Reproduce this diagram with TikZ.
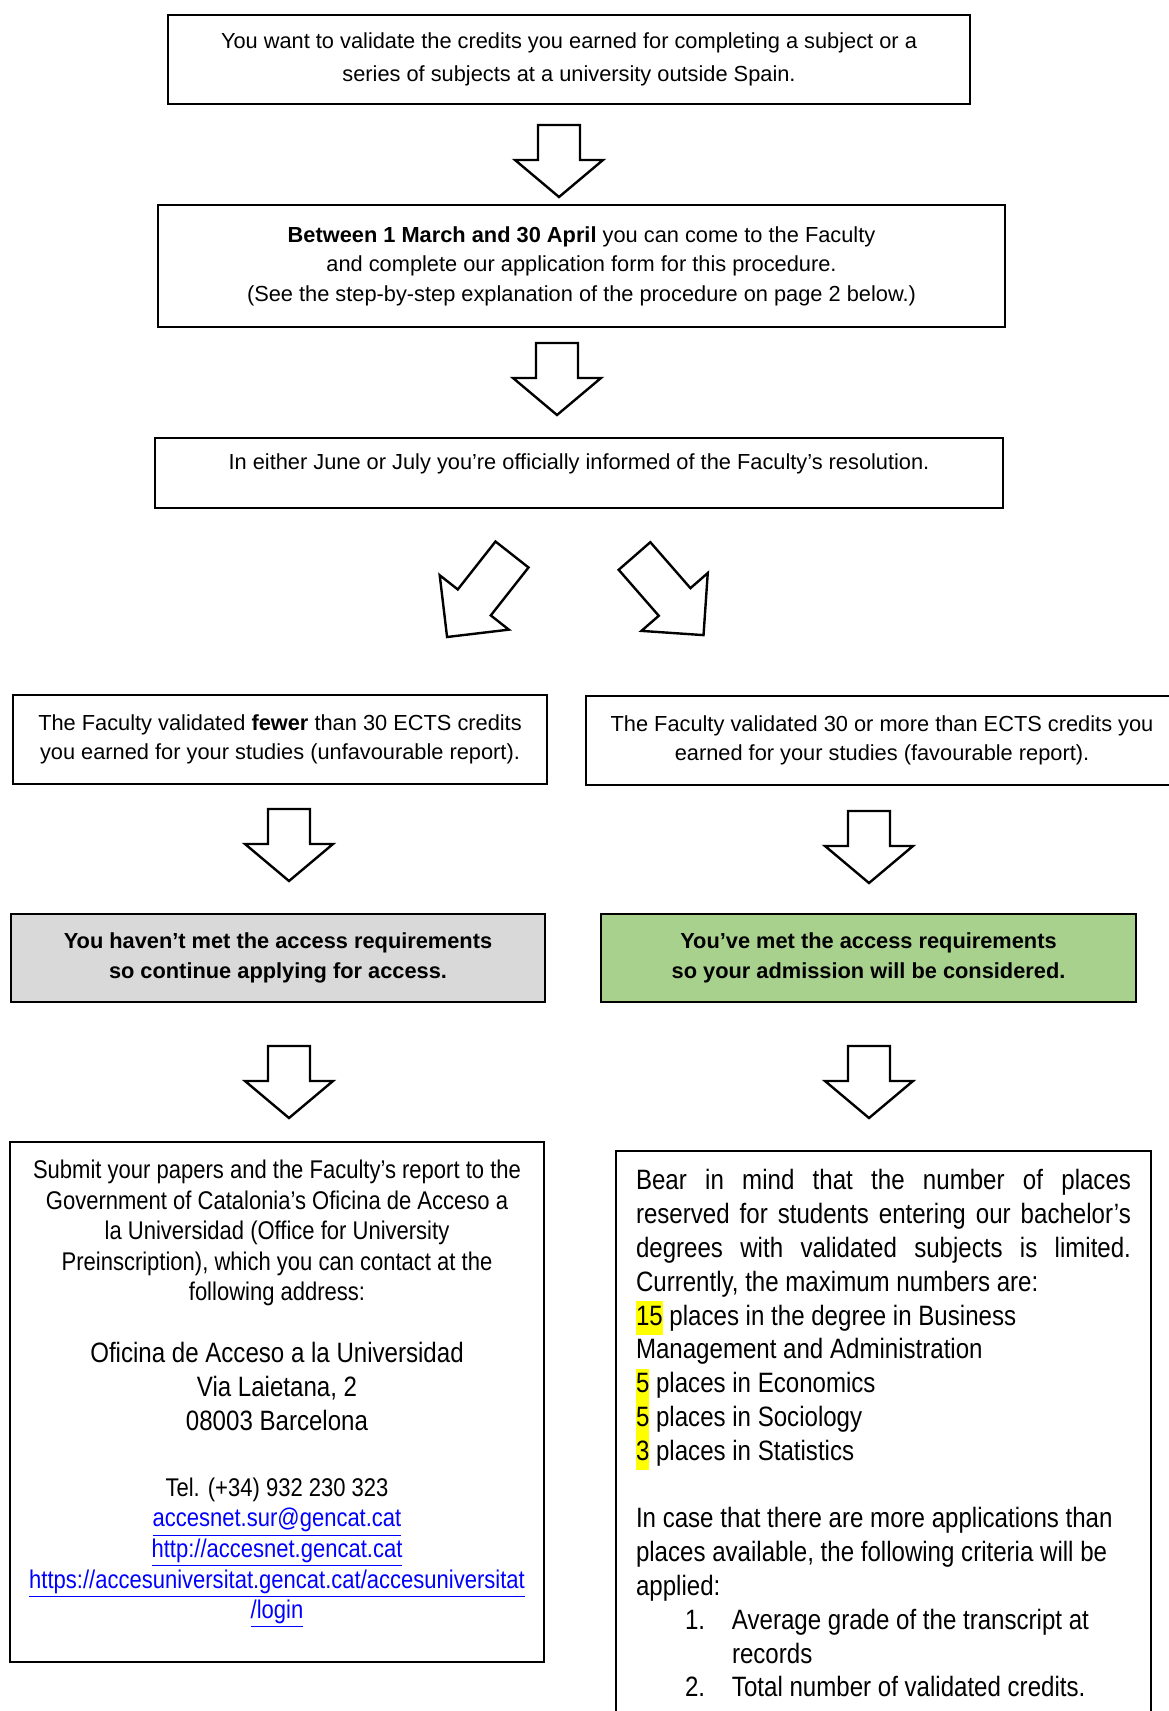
\documentclass[tikz,border=0pt]{standalone}
\usepackage{fontspec}
\setmainfont{Liberation Sans}
\newfontfamily\narrowfont[FakeStretch=0.86]{Liberation Sans}
\definecolor{notmetgrey}{HTML}{D9D9D9}
\definecolor{metgreen}{HTML}{A9D18E}
\definecolor{hlyellow}{HTML}{FFFF00}
\definecolor{linkblue}{HTML}{0000FF}
\newcommand{\hlnum}[1]{{\setlength{\fboxsep}{0pt}\colorbox{hlyellow}{\strut #1}}}
\newcommand{\weblink}[1]{\textcolor{linkblue}{\underline{#1}}}

\begin{document}
\begin{tikzpicture}[
    x=0.5pt, y=-0.5pt,
    block/.style={rectangle, draw, line width=1pt, align=center, inner sep=0pt, font=\fontsize{10.9}{14.8}\selectfont},
    decision/.style={block, font=\fontsize{10.9}{15.3}\selectfont\bfseries, minimum width=267pt, minimum height=44pt},
    infobox/.style={rectangle, draw, line width=1pt, inner ysep=0pt},
    arrow/.style={draw, line width=1.2pt, fill=white},
    pics/hollowarrow/.style 2 args={code={
        \path[arrow] (-21,0) -- (21,0) -- (21,#1) -- (44,#1) -- (0,#1+#2) -- (-44,#1) -- (-21,#1) -- cycle;
    }}
]
\useasboundingbox (0,0) rectangle (1168,1711);

\node[block, font=\fontsize{10.9}{16.4}\selectfont, minimum width=401pt, minimum height=44.5pt] (want) at (569,59.5) {You want to validate the credits you earned for completing a subject or a\\series of subjects at a university outside Spain.};
\node[block, minimum width=423.5pt, minimum height=61pt] (apply) at (581.5,266) {\textbf{Between 1 March and 30 April} you can come to the Faculty\\and complete our application form for this procedure.\\(See the step-by-step explanation of the procedure on page 2 below.)};
\node[block, minimum width=424pt, minimum height=35pt, text depth=11pt] (result) at (579,473) {In either June or July you’re officially informed of the Faculty’s resolution.};

\node[block, minimum width=267pt, minimum height=44.5pt] (fewer) at (280,739.5) {The Faculty validated \textbf{fewer} than 30 ECTS credits\\you earned for your studies (unfavourable report).};
\node[block, minimum width=296pt, minimum height=44.5pt] (more) at (882,740.5) {The Faculty validated 30 or more than ECTS credits you\\earned for your studies (favourable report).};

\node[decision, fill=notmetgrey] (notmet) at (278,958) {You haven’t met the access requirements\\so continue applying for access.};
\node[decision, fill=metgreen, minimum width=267.5pt] (met) at (868.5,958) {You’ve met the access requirements\\so your admission will be considered.};

\node[infobox, inner xsep=0pt] (submit) at (277,1402) {\begin{minipage}[c][260pt][t]{267pt}
\centering\vspace*{9pt}
{\narrowfont\fontsize{12.8}{15.3}\selectfont Submit your papers and the Faculty’s report to the\\
Government of Catalonia’s Oficina de Acceso a\\
la Universidad (Office for University\\
Preinscription), which you can contact at the\\
following address:\par}
\vspace{14pt}
{\narrowfont\fontsize{14}{16.9}\selectfont Oficina de Acceso a la Universidad\\
Via Laietana, 2\\
08003 Barcelona\par}
\vspace{17.7pt}
{\narrowfont\fontsize{12.8}{15.3}\selectfont Tel. (+34) 932 230 323\\
\weblink{accesnet.sur@gencat.cat}\\
\weblink{http://accesnet.gencat.cat}\\
\weblink{https://accesuniversitat.gencat.cat/accesuniversitat}\\
\weblink{/login}\par}
\end{minipage}};

\node[infobox, inner xsep=10pt] (bear) at (883.5,1451) {\begin{minipage}[c][300pt][t]{247.5pt}
\vspace*{9.3pt}
\narrowfont\fontsize{14}{16.9}\selectfont
\makebox[\linewidth][s]{Bear in mind that the number of places}\\
\makebox[\linewidth][s]{reserved for students entering our bachelor’s}\\
\makebox[\linewidth][s]{degrees with validated subjects is limited.}\\
Currently, the maximum numbers are:\\
\hlnum{15} places in the degree in Business\\
Management and Administration\\
\hlnum{5} places in Economics\\
\hlnum{5} places in Sociology\\
\hlnum{3} places in Statistics\\[16.9pt]
In case that there are more applications than\\
places available, the following criteria will be\\
applied:\\
\hspace*{24.5pt}\makebox[23.5pt][l]{1.}Average grade of the transcript at\\
\hspace*{48pt}records\\
\hspace*{24.5pt}\makebox[23.5pt][l]{2.}Total number of validated credits.
\end{minipage}};

\path (want.south) ++(-10,20) pic {hollowarrow={35}{37}};
\path (apply.south) ++(-24.5,15) pic {hollowarrow={35}{37}};
\path (result.south) ++(-67,45.5) pic[rotate=-38.2] {hollowarrow={61}{44}};
\path (result.south) ++(55.5,47) pic[rotate=41.1] {hollowarrow={61}{44}};
\path (fewer.south) ++(9,24) pic {hollowarrow={35}{37}};
\path (more.south) ++(-13,25) pic {hollowarrow={35}{37}};
\path (notmet.south) ++(11,43) pic {hollowarrow={35}{37}};
\path (met.south) ++(0.5,43) pic {hollowarrow={35}{37}};

\end{tikzpicture}
\end{document}
